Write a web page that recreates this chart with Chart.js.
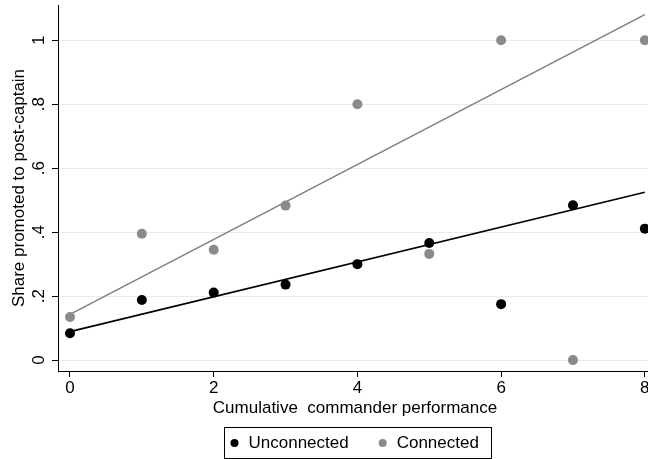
<!DOCTYPE html>
<html><head><meta charset="utf-8">
<script src="https://cdn.jsdelivr.net/npm/chart.js@4/dist/chart.umd.min.js"></script>
<style>html,body{margin:0;padding:0;overflow:hidden;background:#fff;width:648px;height:459px}canvas{display:block}</style>
</head><body>
<canvas id="c" width="660" height="459"></canvas>
<script>
const xValues = [0,1,2,3,4,5,6,7,8];
const unconnected = [0.084,0.188,0.211,0.236,0.300,0.366,0.175,0.484,0.411];
const connected = [0.135,0.395,0.345,0.483,0.800,0.332,1.0,0.0,1.0];
const fitX = [0,8];
const unconnectedFit = [0.089,0.525];
const connectedFit = [0.143,1.080];
const xTicks = [0,2,4,6,8];
const yTicks = [0,0.2,0.4,0.6,0.8,1];
const yTickLabels = ['0','.2','.4','.6','.8','1'];
const seriesNames = ['Unconnected','Connected'];
const xTitle = 'Cumulative  commander performance';
const yTitle = 'Share promoted to post-captain';

const FONT = "'Liberation Sans', Arial, Helvetica, sans-serif";
const FS = 17;
Chart.defaults.font.family = FONT;
Chart.defaults.font.size = FS;
Chart.defaults.color = '#000';

const BLACK = '#000000';
const GREY_PT = '#8a8a8a';
const GREY_LN = '#7d7d7d';

const pts = (ys) => xValues.map((x,i)=>({x:x,y:ys[i]}));
const fit = (ys) => fitX.map((x,i)=>({x:x,y:ys[i]}));

const textPlugin = {
  id: 'texts',
  afterDraw(chart) {
    const ctx = chart.ctx;
    const ca = chart.chartArea;
    const ys = chart.scales.y;
    ctx.save();
    ctx.fillStyle = '#000';
    ctx.font = FS + 'px ' + FONT;
    ctx.textAlign = 'center';
    ctx.textBaseline = 'middle';
    // y tick labels (rotated)
    yTicks.forEach((v,i)=>{
      const py = ys.getPixelForValue(v);
      ctx.save();
      ctx.translate(ca.left - 19, py);
      ctx.rotate(-Math.PI/2);
      ctx.fillText(yTickLabels[i], 0, 0);
      ctx.restore();
    });
    // y title
    ctx.save();
    ctx.translate(ca.left - 39, (ca.top + ca.bottom)/2);
    ctx.rotate(-Math.PI/2);
    ctx.fillText(yTitle, 0, 0);
    ctx.restore();
    // x title
    const cx = (ca.left + ca.right)/2;
    ctx.fillText(xTitle, cx, ca.bottom + 37);
    // legend
    const lcy = ca.bottom + 72;
    const w1 = ctx.measureText(seriesNames[0]).width;
    const w2 = ctx.measureText(seriesNames[1]).width;
    const padL = 6, r = 4, dotGap = 10, itemGap = 30, padR = 13;
    const boxW = padL + 2*r + dotGap + w1 + itemGap + 2*r + dotGap + w2 + padR;
    const boxH = 31;
    const bx = Math.round(cx + 3 - boxW/2) + 0.5;
    const by = ca.bottom + 56.5;
    ctx.strokeStyle = '#000';
    ctx.lineWidth = 1;
    ctx.strokeRect(bx, by, Math.round(boxW), boxH);
    let xx = bx + padL;
    const cols = [BLACK, GREY_PT];
    ctx.textAlign = 'left';
    [w1,w2].forEach((w,i)=>{
      ctx.beginPath();
      ctx.fillStyle = cols[i];
      ctx.arc(xx + r, lcy, r, 0, Math.PI*2);
      ctx.fill();
      ctx.fillStyle = '#000';
      ctx.fillText(seriesNames[i], xx + 2*r + dotGap, lcy);
      xx += 2*r + dotGap + w + itemGap;
    });
    ctx.restore();
  }
};

new Chart(document.getElementById('c'), {
  type: 'scatter',
  data: {
    datasets: [
      { label: seriesNames[0], data: pts(unconnected), backgroundColor: BLACK, borderColor: BLACK, pointRadius: 5, pointBorderWidth: 0, order: 1 },
      { label: seriesNames[1], data: pts(connected), backgroundColor: GREY_PT, borderColor: GREY_PT, pointRadius: 5, pointBorderWidth: 0, order: 2 },
      { label: 'fit1', data: fit(unconnectedFit), showLine: true, borderColor: BLACK, borderWidth: 1.6, pointRadius: 0, fill: false, order: 3 },
      { label: 'fit2', data: fit(connectedFit), showLine: true, borderColor: GREY_LN, borderWidth: 1.4, pointRadius: 0, fill: false, order: 4 }
    ]
  },
  options: {
    responsive: false,
    animation: false,
    clip: false,
    layout: { padding: { top: 5, right: 8, bottom: 0, left: 0 } },
    plugins: { legend: { display: false }, tooltip: { enabled: false } },
    scales: {
      x: {
        type: 'linear', min: -0.167, max: 8.1,
        afterBuildTicks: s => { s.ticks = xTicks.map(v=>({value:v})); },
        afterFit: s => { s.height = 88; },
        grid: { drawOnChartArea: false, tickColor: '#000', tickLength: 6, lineWidth: 1 },
        border: { color: '#000', width: 1 },
        ticks: { padding: 1, maxRotation: 0, font: { size: FS }, color: '#000', callback: v => String(v) }
      },
      y: {
        type: 'linear', min: -0.034, max: 1.11,
        afterBuildTicks: s => { s.ticks = yTicks.map(v=>({value:v})); },
        afterFit: s => { s.width = 58; },
        grid: { color: '#e4eef0', tickColor: '#000', tickLength: 6, lineWidth: 1 },
        border: { color: '#000', width: 1 },
        ticks: { display: false }
      }
    }
  },
  plugins: [textPlugin]
});
</script>
</body></html>
